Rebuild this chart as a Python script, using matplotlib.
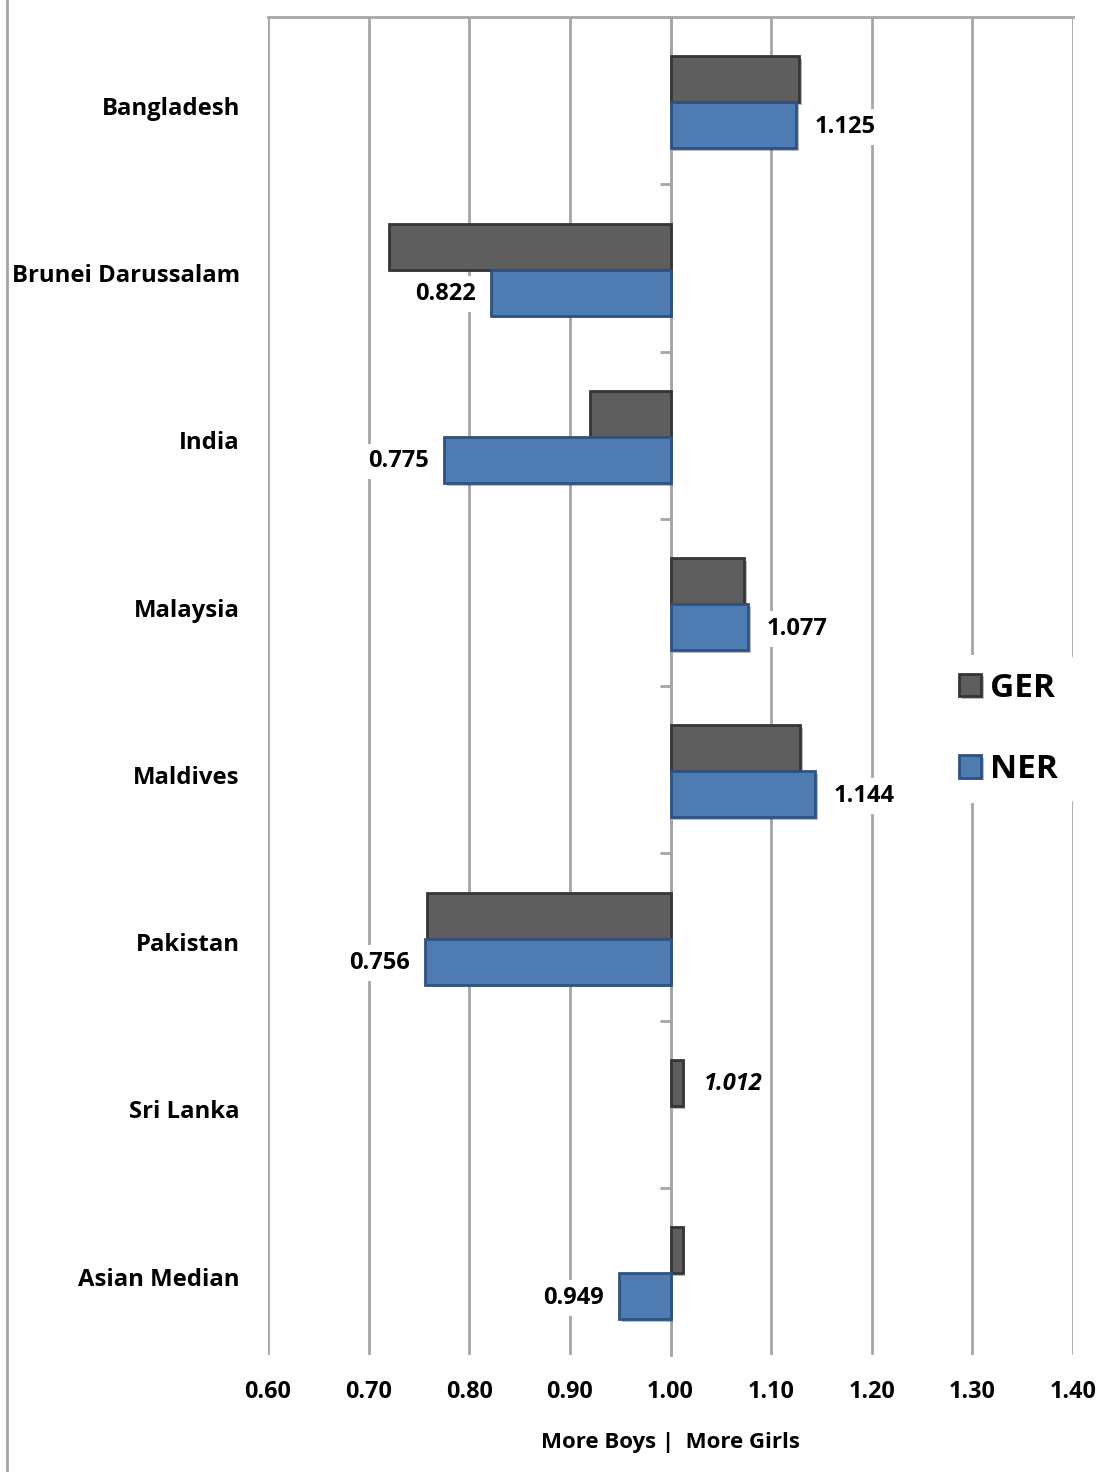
import numpy as np
import matplotlib
matplotlib.use('Agg')
import matplotlib.pyplot as plt
import matplotlib.patheffects as pe
from matplotlib.lines import Line2D

plt.rcParams['font.family'] = ['Open Sans', 'DejaVu Sans']
plt.rcParams['font.weight'] = 'bold'

# Gender parity index by country (GER / NER)
countries = ['Bangladesh', 'Brunei Darussalam', 'India', 'Malaysia',
             'Maldives', 'Pakistan', 'Sri Lanka', 'Asian Median']
ger = [1.128, 0.720, 0.920, 1.073, 1.129, 0.758, 1.012, 1.012]
ner = [1.125, 0.822, 0.775, 1.077, 1.144, 0.756, np.nan, 0.949]
ner_labels = ['1.125', '0.822', '0.775', '1.077', '1.144', '0.756', '', '0.949']
ger_labels = ['', '', '', '', '', '', '1.012', '']
x_ticks = [0.60, 0.70, 0.80, 0.90, 1.00, 1.10, 1.20, 1.30, 1.40]

fig = plt.figure(figsize=(11.07, 14.72), dpi=100)
ax = fig.add_axes([268 / 1107, 1 - 1355 / 1472, (1073 - 268) / 1107, (1355 - 17) / 1472])

y = np.arange(len(countries))
h = 0.275
base = 1.0
shadow = [pe.SimplePatchShadow(offset=(2, -2), alpha=0.3), pe.Normal()]

bars_g = ax.barh(y - h / 2 + 0.01, np.array(ger) - base, left=base, height=h,
                 color='#5e5e5e', edgecolor='#353535', linewidth=2, label='GER', zorder=3)
bars_n = ax.barh(y + h / 2 + 0.01, np.array(ner) - base, left=base, height=h,
                 color='#4f7bb3', edgecolor='#2d5283', linewidth=2, label='NER', zorder=3)
for b in list(bars_g) + list(bars_n):
    b.set_path_effects(shadow)

lab_fs = 17
box = dict(boxstyle='square,pad=0.25', facecolor='white', edgecolor='none')
for i, (v, t) in enumerate(zip(ner, ner_labels)):
    if not t:
        continue
    if v >= base:
        ax.text(v + 0.018, i + h / 2 + 0.02, t, ha='left', va='center', fontsize=lab_fs,
                fontweight='bold', bbox=box, zorder=4)
    else:
        ax.text(v - 0.015, i + h / 2 + 0.02, t, ha='right', va='center', fontsize=lab_fs,
                fontweight='bold', bbox=box, zorder=4)
for i, (v, t) in enumerate(zip(ger, ger_labels)):
    if t:
        ax.text(v + 0.021, i - h / 2 + 0.02, t, ha='left', va='center', fontsize=lab_fs,
                fontweight='bold', style='italic', zorder=4)

ax.set_xlim(0.6, 1.4)
ax.set_ylim(len(countries) - 0.5, -0.5)
ax.set_xticks(x_ticks)
ax.set_xticklabels([f'{t:.2f}' for t in x_ticks], fontsize=16.8, fontweight='bold')
ax.tick_params(axis='x', length=0, pad=18)
ax.grid(axis='x', color='#a6a6a6', linewidth=2, zorder=0)
ax.set_axisbelow(True)

# y axis sits at 1.00, ticks between categories
ax.spines['left'].set_position(('data', base))
ax.spines['left'].set_color('#a6a6a6')
ax.spines['left'].set_linewidth(2)
ax.spines['left'].set_zorder(2)
ax.spines['top'].set_color('#a6a6a6')
ax.spines['top'].set_linewidth(2)
ax.spines['right'].set_visible(False)
ax.spines['bottom'].set_visible(False)
ax.set_yticks([])
ax.set_yticks(np.arange(len(countries) - 1) + 0.5, minor=True)
ax.tick_params(axis='y', which='minor', length=8, width=2, color='#a6a6a6',
               labelleft=False)

trans = ax.get_yaxis_transform()
for i, c in enumerate(countries):
    ax.text(-0.035, i + 0.05, c, transform=trans, ha='right', va='center',
            fontsize=17.2, fontweight='bold')

ax.set_xlabel('More Boys |  More Girls', fontsize=16, fontweight='bold', labelpad=20)

leg = ax.legend(loc='center left', bbox_to_anchor=(0.817, 0.468), frameon=True,
                facecolor='white', edgecolor='none', framealpha=1,
                fontsize=24, handlelength=0.67, handleheight=0.67,
                labelspacing=1.45, handletextpad=0.25, borderpad=0.5)
for t in leg.get_texts():
    t.set_fontweight('bold')

fig.add_artist(Line2D([7 / 1107, 7 / 1107], [0, 1], color='#a6a6a6', linewidth=2))

fig.savefig('out.png', dpi=100)
